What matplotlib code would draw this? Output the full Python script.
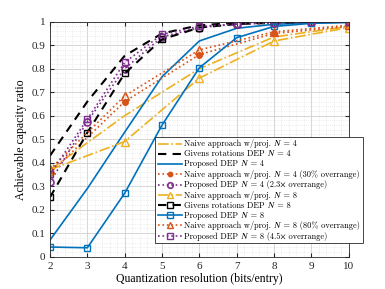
import numpy as np
import matplotlib
matplotlib.use("Agg")
import matplotlib.pyplot as plt
from matplotlib.ticker import MultipleLocator, AutoMinorLocator

plt.rcParams['font.family'] = ['Liberation Serif', 'DejaVu Serif']
plt.rcParams['mathtext.fontset'] = 'cm'

# quantization resolution (bits/entry)
bits = [2, 3, 4, 5, 6, 7, 8, 9, 10]
bits_even = [2, 4, 6, 8, 10]

# achievable capacity ratio
naive_n4 = [0.37, 0.60, 0.80, 0.935, 0.98]
givens_n4 = [0.43, 0.66, 0.855, 0.95, 0.985, 0.995, 0.998, 1.0, 1.0]
dep_n4 = [0.071, 0.29, 0.53, 0.766, 0.918, 0.972, 0.989, 0.995, 0.998]
naive_n4_or = [0.355, 0.66, 0.86, 0.95, 0.98]
dep_n4_or = [0.317, 0.575, 0.80, 0.935, 0.975, 0.99, 0.995, 0.998, 1.0]
naive_n8 = [0.37, 0.49, 0.76, 0.918, 0.975]
givens_n8 = [0.253, 0.528, 0.78, 0.925, 0.975, 0.99, 0.995, 1.0, 1.0]
dep_n8 = [0.041, 0.038, 0.27, 0.56, 0.804, 0.932, 0.98, 0.993, 0.997]
naive_n8_or = [0.372, 0.684, 0.88, 0.957, 0.985]
dep_n8_or = [0.35, 0.585, 0.827, 0.946, 0.98, 0.99, 0.995, 0.998, 1.0]

labels = [
    "Naive approach w/proj. \U0001D441 = 4",
    "Givens rotations DEP \U0001D441 = 4",
    "Proposed DEP \U0001D441 = 4",
    "Naive approach w/proj. \U0001D441 = 4 (30% overrange)",
    "Proposed DEP \U0001D441 = 4 (2.3\u00d7 overrange)",
    "Naive approach w/proj. \U0001D441 = 8",
    "Givens rotations DEP \U0001D441 = 8",
    "Proposed DEP \U0001D441 = 8",
    "Naive approach w/proj. \U0001D441 = 8 (80% overrange)",
    "Proposed DEP \U0001D441 = 8 (4.5\u00d7 overrange)",
]

blue = '#0072BD'
orange = '#D95319'
yellow = '#EDB120'
purple = '#7E2F8E'

fig = plt.figure(figsize=(3.85, 2.89), dpi=100)
ax = fig.add_axes([0.1299, 0.1118, 0.7758, 0.8131])

lw = 1.2
ms = 5
ax.plot(bits_even, naive_n4, '-.', color=yellow, lw=lw, label=labels[0])
ax.plot(bits, givens_n4, '--', color='k', lw=1.5, dashes=(4, 3), label=labels[1])
ax.plot(bits, dep_n4, '-', color=blue, lw=lw, label=labels[2])
ax.plot(bits_even, naive_n4_or, ':', color=orange, lw=lw, marker='o', ms=ms - 1,
        mfc=orange, label=labels[3])
ax.plot(bits, dep_n4_or, ':', color=purple, lw=lw, marker='o', ms=ms,
        mfc='none', mew=1.2, label=labels[4])
ax.plot(bits_even, naive_n8, '-.', color=yellow, lw=lw, marker='^', ms=ms + 1,
        mfc='none', mew=1.0, label=labels[5])
ax.plot(bits, givens_n8, '--', color='k', lw=1.5, dashes=(4, 3), marker='s', ms=ms,
        mfc='none', mew=1.0, label=labels[6])
ax.plot(bits, dep_n8, '-', color=blue, lw=lw, marker='s', ms=ms,
        mfc='none', mew=1.0, label=labels[7])
ax.plot(bits_even, naive_n8_or, ':', color=orange, lw=lw, marker='^', ms=ms + 1,
        mfc='none', mew=1.0, label=labels[8])
ax.plot(bits, dep_n8_or, ':', color=purple, lw=lw, marker='s', ms=ms,
        mfc='none', mew=1.0, label=labels[9])

ax.set_xlim(2, 10)
ax.set_ylim(0, 1)
ax.xaxis.set_major_locator(MultipleLocator(1))
ax.yaxis.set_major_locator(MultipleLocator(0.1))
ax.xaxis.set_minor_locator(AutoMinorLocator(5))
ax.yaxis.set_minor_locator(AutoMinorLocator(5))
ax.set_yticks(np.arange(0, 1.01, 0.1))
ax.set_yticklabels(['0', '0.1', '0.2', '0.3', '0.4', '0.5', '0.6', '0.7', '0.8', '0.9', '1'])
ax.grid(True, which='major', color='#d0d0d0', lw=0.6)
ax.grid(True, which='minor', color='#e0e0e0', lw=0.5, ls=':')
ax.tick_params(which='both', direction='in', top=True, right=True,
               labelsize=8, colors='#262626')
ax.tick_params(which='major', length=3)
ax.tick_params(which='minor', length=0)
for s in ax.spines.values():
    s.set_color('#262626')
    s.set_linewidth(0.6)

ax.set_xlabel('Quantization resolution (bits/entry)', fontsize=8.5, labelpad=2)
ax.set_ylabel('Achievable capacity ratio', fontsize=8.5, labelpad=3)

leg = ax.legend(loc='upper left', bbox_to_anchor=(155 / 385, 1 - 137 / 289),
                bbox_transform=fig.transFigure, borderaxespad=0,
                handlelength=2.9, handletextpad=0.3, handleheight=0.5,
                labelspacing=0.18, borderpad=0.3, fancybox=False,
                framealpha=1, edgecolor='#262626', markerscale=0.8,
                prop={'family': ['cmr10', 'STIXGeneral'], 'size': 6.0})
leg.get_frame().set_linewidth(0.6)

fig.savefig('out.png', dpi=100)
